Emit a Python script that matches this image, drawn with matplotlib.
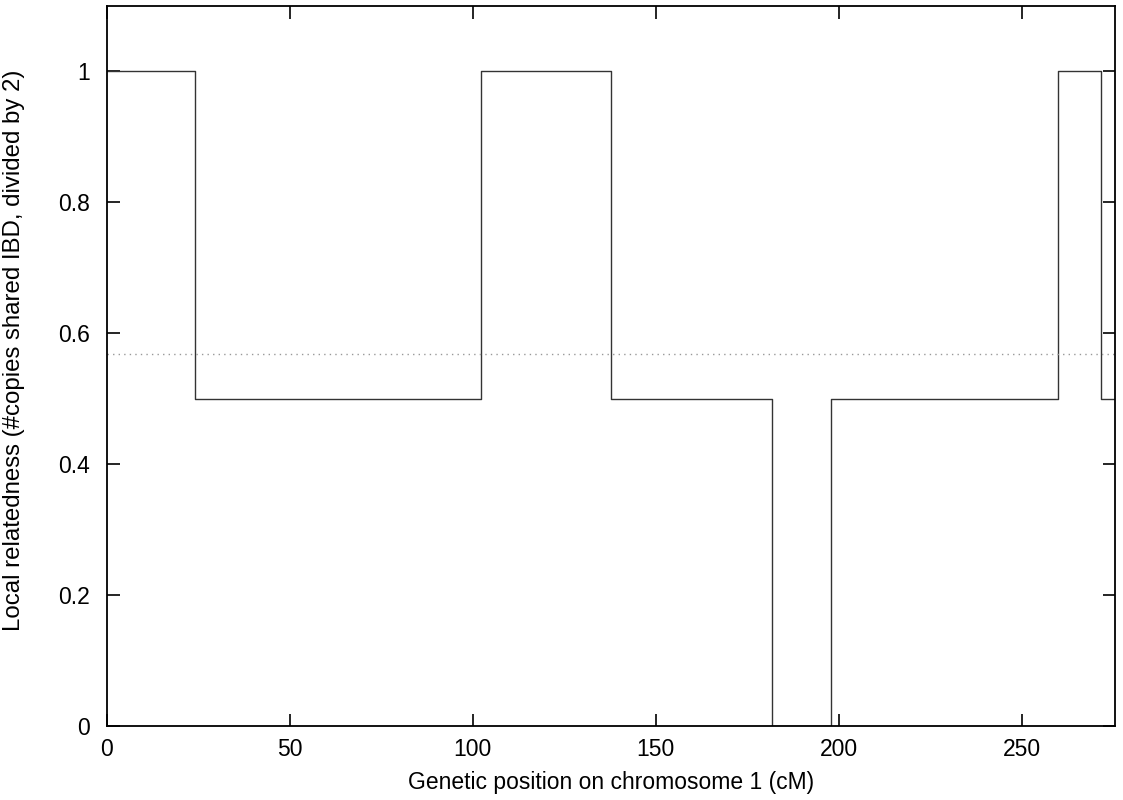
import numpy as np
import matplotlib.pyplot as plt

plt.rcParams['font.family'] = ['Liberation Sans', 'DejaVu Sans']

# step breakpoints (cM) and the relatedness value held after each one
position = [0, 24.1, 102.2, 137.9, 181.9, 197.9, 260.0, 271.8, 275.5]
relatedness = [1.0, 0.5, 1.0, 0.5, 0.0, 0.5, 1.0, 0.5, 0.5]
mean_relatedness = 0.568

fig = plt.figure(figsize=(11.23, 8), dpi=100)
ax = fig.add_axes([106.5 / 1123, 1 - 726 / 800, (1115 - 106.5) / 1123, (726 - 5.7) / 800])

ax.step(position, relatedness, where='post', color='#333333', lw=1.0)
ax.axhline(mean_relatedness, color='#999999', lw=1.0, ls=(0, (1, 3)))

ax.set_xlim(0, 275.5)
ax.set_ylim(0, 1.1)
ax.set_xticks([0, 50, 100, 150, 200, 250])
ax.set_yticks([0, 0.2, 0.4, 0.6, 0.8, 1])
ax.set_yticklabels(['0', '0.2', '0.4', '0.6', '0.8', '1'])
ax.tick_params(direction='in', top=True, right=True, length=9, width=1.2,
               labelsize=16.5)
ax.tick_params(axis='x', pad=9)
ax.tick_params(axis='y', pad=12)
for s in ax.spines.values():
    s.set_linewidth(1.3)

ax.set_xlabel('Genetic position on chromosome 1 (cM)', fontsize=16.5, labelpad=7)
ax.set_ylabel('Local relatedness (#copies shared IBD, divided by 2)', fontsize=17.3)
ax.yaxis.set_label_coords(-0.081, 0.522)

fig.savefig('out.png', dpi=100)
